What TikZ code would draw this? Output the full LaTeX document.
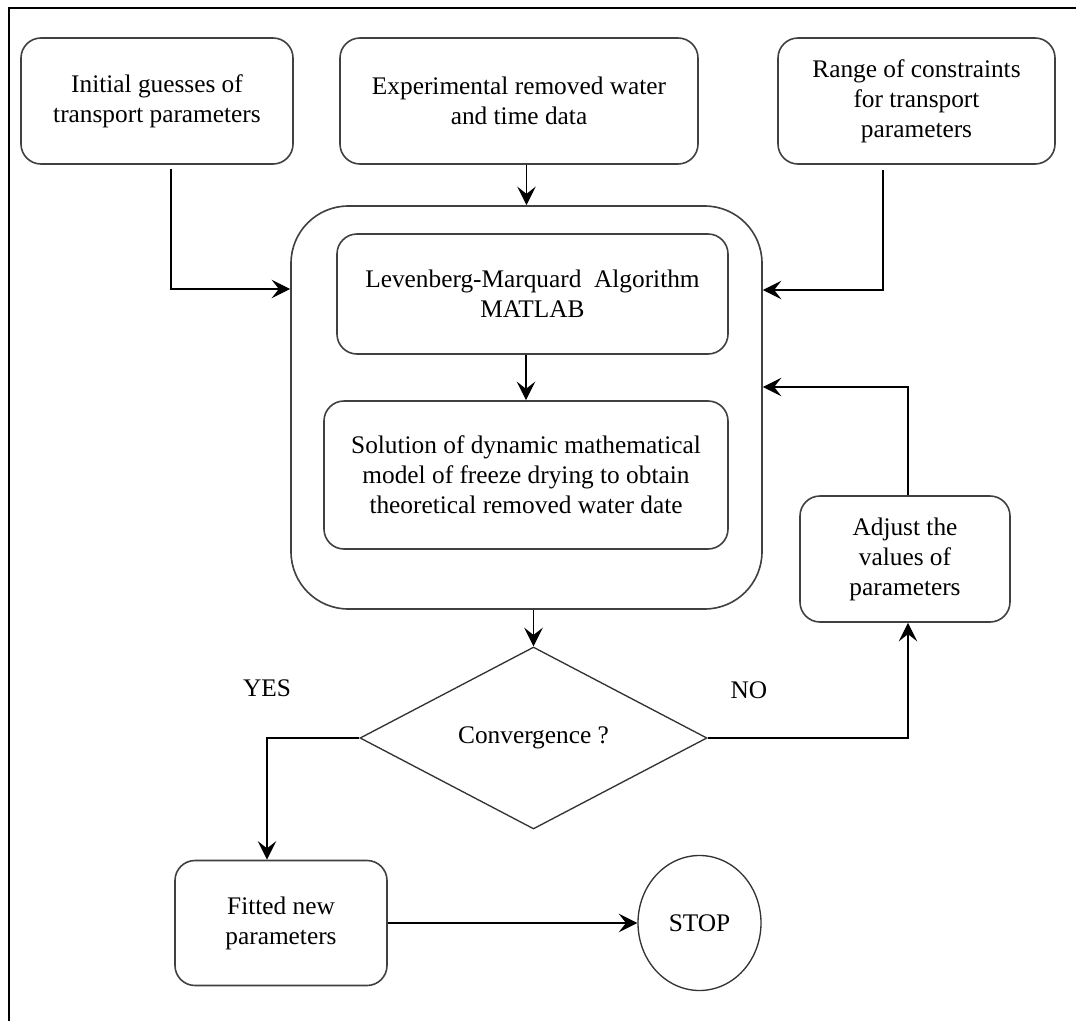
\documentclass[tikz,border=0pt]{standalone}
\usepackage{fontspec}
\setmainfont{Liberation Serif}
\usetikzlibrary{shapes.geometric,arrows.meta,calc}
\begin{document}
\begin{tikzpicture}[x=0.75pt,y=-0.75pt,
  font=\fontsize{19pt}{22.5pt}\selectfont,
  rbox/.style={draw=black!75,line width=1.2pt,rounded corners=15pt,align=center,inner sep=0pt},
  conn/.style={draw=black,line width=0.9pt,-{Stealth[length=14pt,width=14pt,inset=5.5pt]}},
  lbl/.style={inner sep=0pt}]
\useasboundingbox (0,0) rectangle (1076,1021);
\fill[white] (0,0) rectangle (1076,1021);
\draw[line width=1.6pt] (9,1021) -- (9,8) -- (1076,8);

\node[rbox,minimum width=204pt,minimum height=94.5pt] (b1) at (157,101) {Initial guesses of\\transport parameters};
\node[rbox,minimum width=268.5pt,minimum height=94.5pt] (b2) at (519,101) {Experimental removed water\\and time data};
\node[rbox,minimum width=207.75pt,minimum height=94.5pt] (b3) at (916.5,101) {Range of constraints\\for transport\\parameters};

\node[rbox,rounded corners=43pt,minimum width=353.25pt,minimum height=302.25pt] (big) at (526.5,407.5) {};
\node[rbox,minimum width=293.25pt,minimum height=90pt] (lm) at (532.5,294) {Levenberg-Marquard\ \ Algorithm\\MATLAB};
\node[rbox,minimum width=303pt,minimum height=111pt] (sol) at (526,475) {Solution of dynamic mathematical\\model of freeze drying to obtain\\theoretical removed water date};

\node[rbox,minimum width=157.5pt,minimum height=94.5pt] (adj) at (905,559) {Adjust the\\values of\\parameters};

\node[diamond,draw=black!80,line width=1pt,inner sep=0pt,minimum width=260.25pt,minimum height=136.5pt] (dia) at (533.5,738) {Convergence ?};

\node[rbox,minimum width=159pt,minimum height=93.75pt] (fit) at (281,923) {Fitted new\\parameters};
\node[ellipse,draw=black!80,line width=1pt,inner sep=0pt,minimum width=92.25pt,minimum height=101.25pt] (stop) at (699.5,923) {STOP};

\node[lbl] (yes) at (267,688) {YES};
\node[lbl] (no) at (749,690) {NO};

\coordinate (k1) at (171,289);
\coordinate (k3) at (883,290);
\coordinate (k4) at (908,387);
\coordinate (k5) at (267,738);

\draw[conn,shorten <=3pt] (b1.south -| k1) |- (big.west |- k1);
\draw[conn] (b2.south -| big.north) -- (big.north);
\draw[conn,shorten <=4pt] (b3.south -| k3) |- (big.east |- k3);
\draw[conn] (lm.south -| sol.north) -- (sol.north);
\draw[conn] (big.south -| dia.north) -- (dia.north);
\draw[conn] (dia.east) -| (adj.south -| k4);
\draw[conn] (adj.north -| k4) |- (big.east |- k4);
\draw[conn] (dia.west) -| (fit.north -| k5);
\draw[conn] (fit.east) -- (stop.west);
\end{tikzpicture}
\end{document}
